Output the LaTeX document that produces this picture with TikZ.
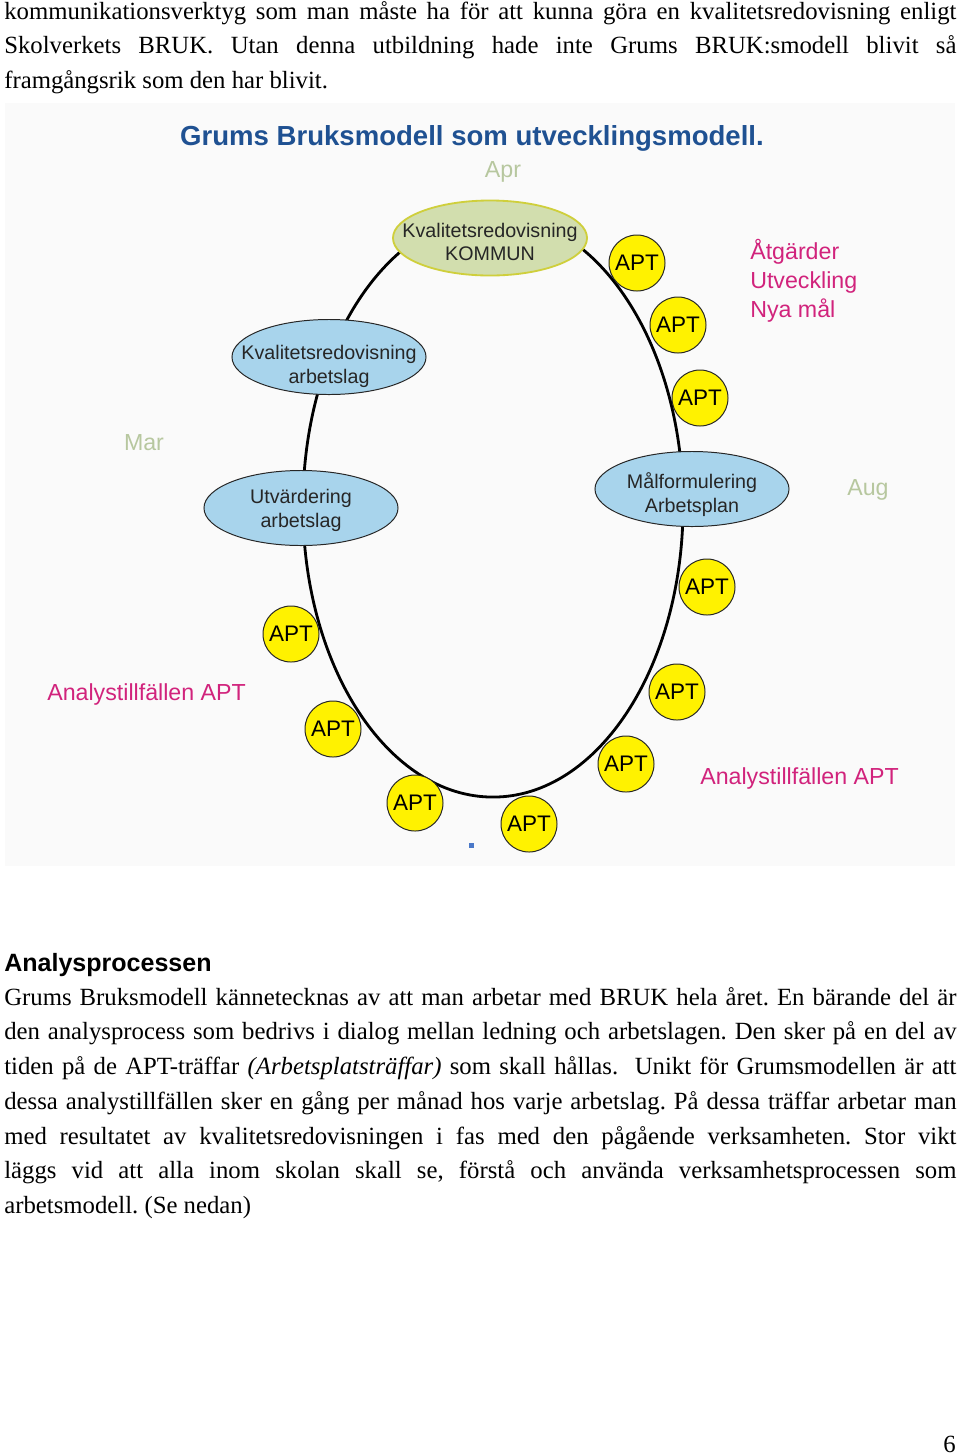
\documentclass[tikz,border=0pt]{standalone}
\usepackage{fontspec}
\setmainfont{Liberation Serif}
\setsansfont{Liberation Sans}
\usetikzlibrary{shapes.geometric}
\definecolor{aptgul}{HTML}{FFF200}
\definecolor{ljusbla}{HTML}{A8D4EC}
\definecolor{gronfyll}{HTML}{D2DEAE}
\definecolor{gronkant}{HTML}{CFCF3C}
\definecolor{rosa}{HTML}{D1237C}
\definecolor{manadgron}{HTML}{B7C79F}
\definecolor{rubrikbla}{HTML}{1F5192}
\definecolor{prickbla}{HTML}{4A78C8}
\frenchspacing
\tikzset{
	apt/.style={circle, draw=black!85, line width=.7pt, fill=aptgul, minimum size=1.4cm, inner sep=0, font=\sffamily\fontsize{16}{16}\selectfont},
	blaell/.style={ellipse, draw=black!85, line width=.7pt, fill=ljusbla, minimum width=4.85cm, minimum height=1.875cm, inner sep=0},
	gronell/.style={blaell, draw=gronkant, line width=1.3pt, fill=gronfyll},
	elltext/.style={align=center, inner sep=0, text=black!85, font=\sffamily\fontsize{14}{17}\selectfont},
	rosatext/.style={text=rosa, align=left, inner sep=0, font=\sffamily\fontsize{16.5}{20.6}\selectfont},
	manad/.style={text=manadgron, inner sep=0, font=\sffamily\fontsize{16.5}{16.5}\selectfont},
	brodtext/.style={text width=23.8cm, align=justify, inner sep=0, font=\fontsize{17.6}{24.7}\selectfont\frenchspacing}
}
\begin{document}
\begin{tikzpicture}[x=0.025cm, y=-0.025cm]
	\useasboundingbox (0,0) rectangle (960,1456);
	% text ovanfor bilden
	\node[brodtext, anchor=north west] (stycke1) at (4,1) {kommunikationsverktyg som man måste ha för att kunna göra en kvalitetsredovisning enligt\linebreak Skolverkets BRUK. Utan denna utbildning hade inte Grums BRUK:smodell blivit så\linebreak framgångsrik som den har blivit.};
	% bilden
	\fill[black!2] (5,103) rectangle (955,866);
	\node[text=rubrikbla, font=\sffamily\bfseries\fontsize{19.6}{19.6}\selectfont] (rubrik) at (472,138) {Grums Bruksmodell som utvecklingsmodell.};
	\coordinate (mitt) at (493,506);
	\draw[line width=2pt] (mitt) ellipse [x radius=4.75cm, y radius=7.275cm];
	\node[gronell, label={[elltext, yshift=-2.8pt]center:Kvalitetsredovisning\\KOMMUN}] (kommun) at (490,238) {};
	\node[blaell, label={[elltext, yshift=-6.4pt]center:Kvalitetsredovisning\\arbetslag}] (kvalarb) at (329,357) {};
	\node[blaell, label={[elltext, yshift=-1.4pt]center:Utvärdering\\arbetslag}] (utvarb) at (301,508) {};
	\node[blaell, label={[elltext, yshift=-4.3pt]center:Målformulering\\Arbetsplan}] (malform) at (692,489) {};
	\node[apt] (apt1) at (637,263) {APT};
	\node[apt] (apt2) at (678,325) {APT};
	\node[apt] (apt3) at (700,398) {APT};
	\node[apt] (apt4) at (707,587) {APT};
	\node[apt] (apt5) at (677,692) {APT};
	\node[apt] (apt6) at (626,764) {APT};
	\node[apt] (apt7) at (529,824) {APT};
	\node[apt] (apt8) at (415,803) {APT};
	\node[apt] (apt9) at (333,729) {APT};
	\node[apt] (apt10) at (291,634) {APT};
	\node[manad] (apr) at (503,172) {Apr};
	\node[manad] (mar) at (144,443) {Mar};
	\node[manad] (aug) at (868,490) {Aug};
	\node[rosatext, anchor=west] (atgarder) at (750,281) {Åtgärder\\Utveckling\\Nya mål};
	\node[rosatext, anchor=west] (analysv) at (47,694) {Analystillfällen APT};
	\node[rosatext, anchor=west] (analysh) at (700,778) {Analystillfällen APT};
	\fill[prickbla] (469,843) rectangle (474,848);
	% text under bilden
	\node[anchor=base west, inner sep=0, font=\sffamily\bfseries\fontsize{17.8}{17.8}\selectfont] (analysrubrik) at (4,971) {Analysprocessen};
	\node[brodtext, anchor=north west] (stycke2) at (4,987) {Grums Bruksmodell kännetecknas av att man arbetar med BRUK hela året. En bärande del är\linebreak den analysprocess som bedrivs i dialog mellan ledning och arbetslagen. Den sker på en del av\linebreak tiden på de APT-träffar \textit{(Arbetsplatsträffar)} som skall hållas.\ \ Unikt för Grumsmodellen är att\linebreak dessa analystillfällen sker en gång per månad hos varje arbetslag. På dessa träffar arbetar man\linebreak med resultatet av kvalitetsredovisningen i fas med den pågående verksamheten. Stor vikt\linebreak läggs vid att alla inom skolan skall se, förstå och använda verksamhetsprocessen som\linebreak arbetsmodell. (Se nedan)};
	\node[anchor=base east, inner sep=0, font=\fontsize{17.6}{17.6}\selectfont] (sidnr) at (956,1452) {6};
\end{tikzpicture}
\end{document}
